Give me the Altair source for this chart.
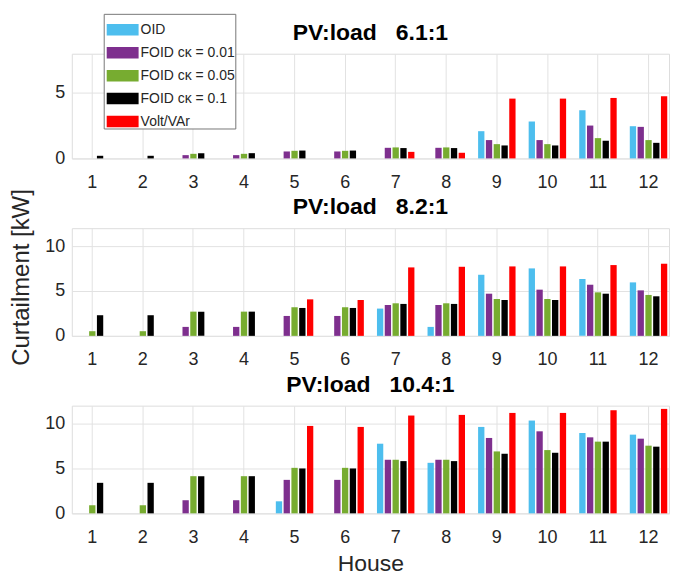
import altair as alt
import pandas as pd

houses = list(range(1, 13))
series = ["OID", "FOID cκ = 0.01", "FOID cκ = 0.05", "FOID cκ = 0.1", "Volt/VAr"]
colors = ["#4DBEEE", "#7E2F8E", "#77AC30", "#000000", "#FF0000"]

NB = "\u00a0"
titles = ["PV:load" + NB * 3 + "6.1:1", "PV:load" + NB * 3 + "8.2:1", "PV:load" + NB * 3 + "10.4:1"]

# Panel 1 (6.1:1)
oid_1 = [0, 0, 0, 0, 0, 0, 0, 0, 2.08, 2.82, 3.68, 2.46]
f001_1 = [0, 0, 0.25, 0.25, 0.53, 0.53, 0.81, 0.81, 1.40, 1.40, 2.51, 2.41]
f005_1 = [0, 0, 0.35, 0.35, 0.58, 0.58, 0.84, 0.84, 1.09, 1.09, 1.55, 1.40]
f01_1 = [0.2, 0.2, 0.4, 0.4, 0.6, 0.6, 0.79, 0.79, 0.99, 0.99, 1.35, 1.19]
vv_1 = [0, 0, 0, 0, 0, 0, 0.5, 0.43, 4.57, 4.57, 4.62, 4.75]

# Panel 2 (8.2:1)
oid_2 = [0, 0, 0, 0, 0, 0, 3.04, 1.0, 6.81, 7.52, 6.33, 5.96]
f001_2 = [0, 0, 1.0, 1.0, 2.22, 2.22, 3.44, 3.44, 4.70, 5.15, 5.70, 5.07]
f005_2 = [0.52, 0.52, 2.7, 2.7, 3.19, 3.19, 3.63, 3.63, 4.11, 4.11, 4.85, 4.56]
f01_2 = [2.3, 2.3, 2.7, 2.7, 3.11, 3.11, 3.56, 3.56, 4.0, 4.0, 4.7, 4.41]
vv_2 = [0, 0, 0, 0, 4.07, 4.0, 7.63, 7.7, 7.74, 7.74, 7.89, 8.04]

# Panel 3 (10.4:1)
oid_3 = [0, 0, 0, 0, 1.34, 0, 7.76, 5.63, 9.63, 10.34, 8.96, 8.77]
f001_3 = [0, 0, 1.46, 1.46, 3.73, 3.73, 5.97, 5.97, 8.4, 9.14, 8.47, 8.32]
f005_3 = [0.9, 0.9, 4.14, 4.14, 5.07, 5.07, 5.97, 5.97, 6.9, 7.05, 7.99, 7.54]
f01_3 = [3.4, 3.4, 4.14, 4.14, 5.0, 5.0, 5.82, 5.82, 6.64, 6.75, 7.99, 7.43]
vv_3 = [0, 0, 0, 0, 9.74, 9.63, 10.9, 10.97, 11.19, 11.19, 11.49, 11.64]

panels = [
    [oid_1, f001_1, f005_1, f01_1, vv_1],
    [oid_2, f001_2, f005_2, f01_2, vv_2],
    [oid_3, f001_3, f005_3, f01_3, vv_3],
]
domains = [[0, 8], [0, 12], [0, 12]]
tickvals = [[0, 5], [0, 5, 10], [0, 5, 10]]
heights = [105, 108, 108]

FONT = "Liberation Sans"
TXT = "#262626"


def make_panel(i):
    rows = []
    for s, arr in zip(series, panels[i]):
        for h, v in zip(houses, arr):
            rows.append({"House": h, "Series": s, "Value": v})
    df = pd.DataFrame(rows)

    xaxis_kw = dict(labelAngle=0, labelFontSize=18, labelColor=TXT, labelFont=FONT,
                    labelPadding=15, ticks=False, domain=False, grid=True,
                    gridColor="#e2e2e2", bandPosition=0.5)
    if i == 2:
        xaxis_kw.update(title="House", titleFontSize=23, titleFont=FONT,
                        titleColor=TXT, titleFontWeight="normal", titlePadding=6)
    else:
        xaxis_kw.update(title=None)

    yaxis_kw = dict(values=tickvals[i], labelFontSize=18, labelColor=TXT, labelFont=FONT,
                    labelPadding=7, ticks=False, domain=False, grid=True,
                    gridColor="#e2e2e2", title=None)

    legend = alt.Legend(
        orient="none", legendX=32, legendY=-40, title=None,
        fillColor="white", strokeColor="#777777", padding=0,
        labelFontSize=14, labelFont=FONT, labelColor=TXT, labelOffset=2,
        symbolType="M-1,-0.36H1V0.36H-1Z", symbolSize=1024, symbolOffset=3,
        symbolStrokeWidth=0, symbolOpacity=1, rowPadding=0,
    )

    return alt.Chart(df).mark_bar(opacity=1).encode(
        x=alt.X("House:O", scale=alt.Scale(paddingInner=0.23, paddingOuter=0.02),
                axis=alt.Axis(**xaxis_kw)),
        xOffset=alt.XOffset("Series:N", sort=series,
                            scale=alt.Scale(paddingInner=0.19, paddingOuter=0.095)),
        y=alt.Y("Value:Q", scale=alt.Scale(domain=domains[i], nice=False),
                axis=alt.Axis(**yaxis_kw)),
        color=alt.Color("Series:N", sort=series,
                        scale=alt.Scale(domain=series, range=colors), legend=legend),
    ).properties(
        width=599, height=heights[i],
        title=alt.Title(titles[i], fontSize=23, font=FONT, fontWeight="bold",
                        color="#000000", offset=9),
    )


chart = alt.vconcat(
    *[make_panel(i) for i in range(3)],
    spacing=70, bounds="flush",
    title=alt.Title("Curtailment [kW]", orient="left", anchor="middle", fontSize=24,
                    font=FONT, fontWeight="normal", color=TXT, offset=10, dx=17),
    padding={"left": 2, "top": 4, "right": 0, "bottom": 0},
).configure_view(
    stroke="#8a8a8a", strokeWidth=1
).configure(background="white")

chart.save("out.html", embed_options={"renderer": "svg", "actions": False})
